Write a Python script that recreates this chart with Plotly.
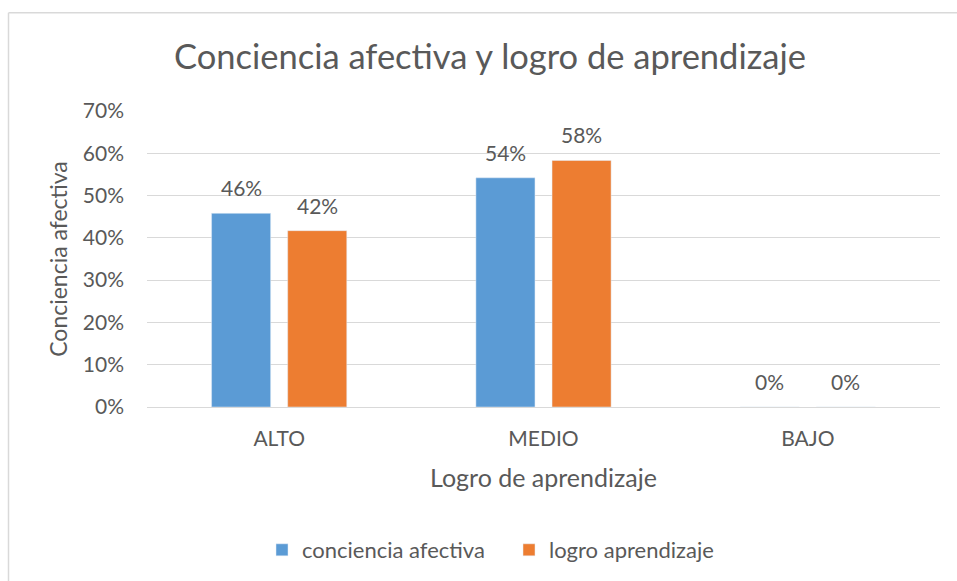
import plotly.graph_objects as go

categories = ["ALTO", "MEDIO", "BAJO"]
conciencia_afectiva = [0.458, 0.542, 0.0]
logro_aprendizaje = [0.417, 0.583, 0.0]
labels_conciencia = ["46%", "54%", "0%"]
labels_logro = ["42%", "58%", "0%"]
y_ticks = [0, 0.1, 0.2, 0.3, 0.4, 0.5, 0.6, 0.7]
y_tick_labels = ["0%", "10%", "20%", "30%", "40%", "50%", "60%", "70%"]

FONT = "Lato, Calibri, sans-serif"
GRAY = "#595959"

fig = go.Figure()
fig.add_trace(go.Bar(
    x=categories, y=conciencia_afectiva, name="conciencia afectiva",
    marker=dict(color="#5B9BD5"),
))
fig.add_trace(go.Bar(
    x=categories, y=logro_aprendizaje, name="logro aprendizaje",
    marker=dict(color="#ED7D31"),
))

# data labels above each bar (offset left/right within the group)
for vals, labs, shift in ((conciencia_afectiva, labels_conciencia, -38),
                          (logro_aprendizaje, labels_logro, 38)):
    for c, v, t in zip(categories, vals, labs):
        fig.add_annotation(x=c, y=v, xref="x", yref="y", text=t, showarrow=False,
                           xshift=shift, yshift=11, yanchor="bottom",
                           font=dict(size=21, color=GRAY, family=FONT))

L, R, T, B = 147, 17, 111, 173
W, H = 957, 581
pw, ph = W - L - R, H - T - B

def px_x(x):
    return (x - L) / pw

def px_y(y):
    return (H - B - y) / ph

fig.update_layout(
    width=W, height=H,
    margin=dict(l=L, r=R, t=T, b=B),
    paper_bgcolor="white", plot_bgcolor="white",
    barmode="group", bargap=0.424, bargroupgap=0.224,
    font=dict(family=FONT, color=GRAY),
    title=dict(text="Conciencia afectiva y logro de aprendizaje",
               x=0.512, xanchor="center", y=1 - 57 / H, yanchor="middle",
               font=dict(size=34.5, color=GRAY, family=FONT)),
    xaxis=dict(showgrid=False, showline=False, ticks="",
               tickfont=dict(size=21, color=GRAY), ticklabelstandoff=17,
               title=dict(text="Logro de aprendizaje", font=dict(size=25, color=GRAY), standoff=20)),
    yaxis=dict(range=[0, 0.7], tickvals=y_ticks, ticktext=y_tick_labels,
               showgrid=True, gridcolor="#D9D9D9", gridwidth=1,
               zeroline=True, zerolinecolor="#D9D9D9", zerolinewidth=1,
               tickfont=dict(size=21, color=GRAY), ticks="", ticklabelstandoff=22,
               title=dict(text="Conciencia afectiva", font=dict(size=23, color=GRAY), standoff=8)),
    showlegend=True,
    legend=dict(orientation="h", x=px_x(262), xanchor="left", y=px_y(550), yanchor="middle",
                font=dict(size=22, color=GRAY), traceorder="normal",
                itemwidth=30, entrywidth=202, entrywidthmode="pixels"),
    shapes=[
        dict(type="line", xref="paper", yref="paper",
             x0=px_x(8.5), x1=px_x(960), y0=px_y(12.5), y1=px_y(12.5),
             line=dict(color="#D9D9D9", width=1.5)),
        dict(type="line", xref="paper", yref="paper",
             x0=px_x(8.5), x1=px_x(8.5), y0=px_y(12.5), y1=px_y(590),
             line=dict(color="#D9D9D9", width=1.5)),
    ],
)

fig.write_html("out.html", config={"displayModeBar": False},
               post_script="document.body.style.margin='0';document.body.style.overflow='hidden';")
